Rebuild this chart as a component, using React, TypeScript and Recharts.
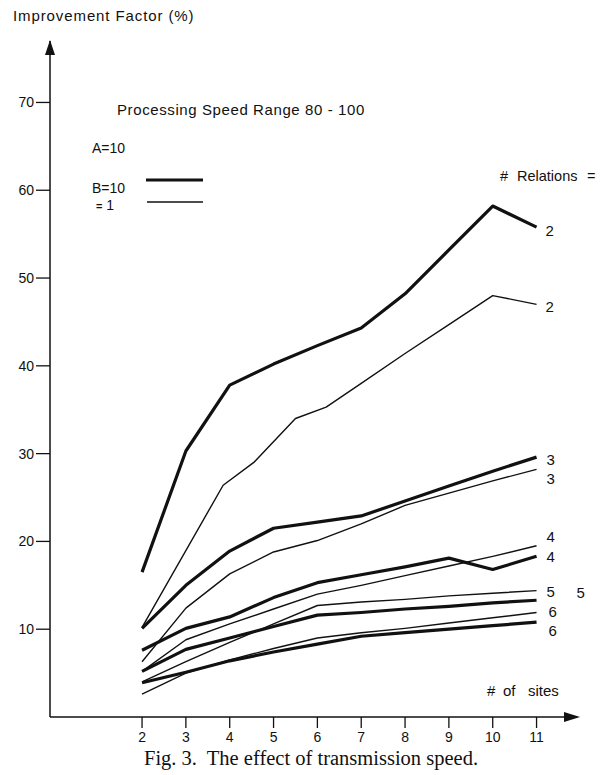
import { LabelList, Line, LineChart, ReferenceDot, XAxis, YAxis } from "recharts";

const SITES = [2, 3, 4, 5, 6, 7, 8, 9, 10, 11];
const THIN_R2_SITES = [2, 3.85, 4.55, 5.5, 6.2, 7, 8, 9, 10, 11];
const X_TICKS = [2, 3, 4, 5, 6, 7, 8, 9, 10, 11];
const Y_TICKS = [10, 20, 30, 40, 50, 60, 70];

// B=10 (thick lines)
const B10_R2 = [16.5, 30.3, 37.8, 40.2, 42.3, 44.3, 48.2, 53.2, 58.2, 55.8];
const B10_R3 = [10.1, 15.0, 18.9, 21.5, 22.2, 22.9, 24.6, 26.3, 28.0, 29.6];
const B10_R4 = [7.6, 10.1, 11.4, 13.6, 15.3, 16.2, 17.1, 18.1, 16.8, 18.3];
const B10_R5 = [5.2, 7.7, 9.0, 10.3, 11.6, 11.9, 12.3, 12.6, 13.0, 13.3];
const B10_R6 = [3.9, 5.1, 6.4, 7.4, 8.3, 9.2, 9.6, 10.0, 10.4, 10.8];

// B=1 (thin lines)
const B1_R2 = [10.2, 26.4, 29.0, 34.0, 35.3, 38.0, 41.4, 44.7, 48.0, 47.0];
const B1_R3 = [6.3, 12.4, 16.3, 18.8, 20.1, 22.0, 24.1, 25.5, 26.9, 28.2];
const B1_R4 = [5.2, 8.8, 10.6, 12.3, 14.0, 15.0, 16.1, 17.2, 18.3, 19.5];
const B1_R5 = [4.0, 6.3, 8.5, 10.6, 12.7, 13.1, 13.4, 13.8, 14.1, 14.4];
const B1_R6 = [2.6, 5.0, 6.5, 7.8, 9.0, 9.6, 10.1, 10.7, 11.3, 11.9];

const INK = "#111";
const SANS = "'Liberation Sans', Arial, Helvetica, sans-serif";
const SERIF = "'Liberation Serif', 'Times New Roman', serif";
const THICK = 3.2;
const THIN = 1.4;

type Pt = { x: number; y: number };
const pts = (xs: number[], ys: number[]): Pt[] => xs.map((x, i) => ({ x, y: ys[i] }));

const SERIES = [
  { key: "b10r2", data: pts(SITES, B10_R2), width: THICK, label: "2", dx: 9, dy: 3 },
  { key: "b1r2", data: pts(THIN_R2_SITES, B1_R2), width: THIN, label: "2", dx: 9, dy: 2 },
  { key: "b10r3", data: pts(SITES, B10_R3), width: THICK, label: "3", dx: 10, dy: 2 },
  { key: "b1r3", data: pts(SITES, B1_R3), width: THIN, label: "3", dx: 10, dy: 9 },
  { key: "b1r4", data: pts(SITES, B1_R4), width: THIN, label: "4", dx: 10, dy: -9 },
  { key: "b10r4", data: pts(SITES, B10_R4), width: THICK, label: "4", dx: 10, dy: 0 },
  { key: "b1r5", data: pts(SITES, B1_R5), width: THIN, label: "5", dx: 10, dy: 1 },
  { key: "b10r5", data: pts(SITES, B10_R5), width: THICK, label: "5", dx: 40, dy: -8 },
  { key: "b1r6", data: pts(SITES, B1_R6), width: THIN, label: "6", dx: 12, dy: -1 },
  { key: "b10r6", data: pts(SITES, B10_R6), width: THICK, label: "6", dx: 12, dy: 8 },
];

function endLabel(text: string, last: number, dx: number, dy: number) {
  return (props: any) => {
    if (props.index !== last) return null;
    const vb = props.viewBox || {};
    const px = props.x ?? vb.x;
    const py = props.y ?? vb.y;
    return (
      <text
        x={px + dx}
        y={py + dy}
        dominantBaseline="central"
        fontFamily={SANS}
        fontSize={15}
        fill={INK}
      >
        {text}
      </text>
    );
  };
}

const upArrow = (p: any) => (
  <polygon points={`${p.cx},${p.cy - 1} ${p.cx - 5},${p.cy + 14} ${p.cx + 5},${p.cy + 14}`} fill={INK} />
);
const rightArrow = (p: any) => (
  <polygon points={`${p.cx + 4},${p.cy} ${p.cx - 12},${p.cy - 5} ${p.cx - 12},${p.cy + 5}`} fill={INK} />
);

export default function App() {
  return (
    <div style={{ position: "absolute", left: 0, top: 0, width: 604, height: 775, background: "#fff" }}>
      <LineChart width={604} height={775} margin={{ top: 41, right: 28, bottom: 0, left: 0 }}>
        <XAxis
          type="number"
          dataKey="x"
          domain={[-0.1, 11.9]}
          ticks={X_TICKS}
          interval={0}
          height={58}
          tickSize={11}
          tickMargin={4}
          axisLine={{ stroke: INK, strokeWidth: 1.5 }}
          tickLine={{ stroke: INK, strokeWidth: 1.3 }}
          tick={{ fill: INK, fontSize: 14, fontFamily: SANS }}
          allowDataOverflow
        />
        <YAxis
          type="number"
          domain={[0, 77]}
          ticks={Y_TICKS}
          interval={0}
          width={50}
          tickSize={14}
          tickMargin={2}
          axisLine={{ stroke: INK, strokeWidth: 1.5 }}
          tickLine={{ stroke: INK, strokeWidth: 1.3 }}
          tick={{ fill: INK, fontSize: 14, fontFamily: SANS }}
          allowDataOverflow
        />
        {SERIES.map((s) => (
          <Line
            key={s.key}
            data={s.data}
            dataKey="y"
            type="linear"
            stroke={INK}
            strokeWidth={s.width}
            strokeLinejoin="round"
            dot={false}
            activeDot={false}
            isAnimationActive={false}
          >
            <LabelList dataKey="y" content={endLabel(s.label, s.data.length - 1, s.dx, s.dy)} />
          </Line>
        ))}
        <ReferenceDot x={-0.1} y={77} r={0} shape={upArrow} ifOverflow="visible" />
        <ReferenceDot x={11.9} y={0} r={0} shape={rightArrow} ifOverflow="visible" />
      </LineChart>
      <svg
        width={604}
        height={775}
        style={{ position: "absolute", left: 0, top: 0, pointerEvents: "none" }}
      >
        <g fontFamily={SANS} fill={INK}>
          <text x={13} y={21} fontSize={15} letterSpacing={0.9}>Improvement Factor (%)</text>
          <text x={117} y={115} fontSize={15} letterSpacing={0.6}>Processing Speed Range 80 - 100</text>
          <text x={92} y={153} fontSize={14}>A=10</text>
          <text x={92} y={193} fontSize={14}>B=10</text>
          <text x={96} y={210} fontSize={14}>
            <tspan fontSize={11} fontWeight="bold">=</tspan> 1
          </text>
          <text y={181} fontSize={14.5}>
            <tspan x={500}>#</tspan>
            <tspan x={517}>Relations</tspan>
            <tspan x={587}>=</tspan>
          </text>
          <text y={696} fontSize={15}>
            <tspan x={487}>#</tspan>
            <tspan x={503}>of</tspan>
            <tspan x={528}>sites</tspan>
          </text>
        </g>
        <line x1={146} y1={180} x2={203} y2={180} stroke={INK} strokeWidth={THICK} />
        <line x1={147} y1={202} x2={203} y2={202} stroke={INK} strokeWidth={THIN} />
        <text x={144} y={765} fontFamily={SERIF} fontSize={20.5} fill={INK} style={{ whiteSpace: "pre" }}>
          Fig. 3.  The effect of transmission speed.
        </text>
      </svg>
    </div>
  );
}
